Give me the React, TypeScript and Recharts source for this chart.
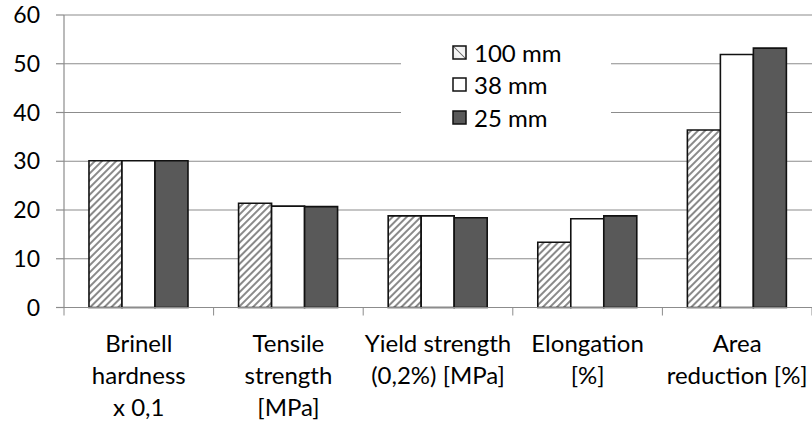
import React from "react";
import { BarChart, Bar, XAxis, YAxis, CartesianGrid, Legend } from "recharts";

// Property categories (multi-line axis labels)
const categories: string[][] = [
  ["Brinell", "hardness", "x 0,1"],
  ["Tensile", "strength", "[MPa]"],
  ["Yield strength", "(0,2%) [MPa]"],
  ["Elongation", "[%]"],
  ["Area", "reduction [%]"],
];

const series100: number[] = [30.1, 21.4, 18.8, 13.4, 36.4];
const series38: number[] = [30.1, 20.8, 18.8, 18.2, 51.9];
const series25: number[] = [30.1, 20.7, 18.4, 18.8, 53.2];

const yTicks: number[] = [0, 10, 20, 30, 40, 50, 60];

const data = categories.map((lines, i) => ({
  key: lines.join(" "),
  "100 mm": series100[i],
  "38 mm": series38[i],
  "25 mm": series25[i],
}));

const FONT = "Lato, 'Open Sans', sans-serif";
const GRID = "#8c8c8c";
const FS = 23;
const LABEL_FS = 24;

const CategoryTick = (props: any) => {
  const { x, y, payload, index, visibleTicksCount } = props;
  const lines = categories[index] || [];
  const half = payload.offset || 0;
  const isLast = index === (visibleTicksCount ?? categories.length) - 1;
  const axisY = y - 8;
  return (
    <g>
      <line x1={x - half} x2={x - half} y1={axisY} y2={axisY + 8} stroke={GRID} strokeWidth={1} />
      {isLast && (
        <line x1={x + half} x2={x + half} y1={axisY} y2={axisY + 8} stroke={GRID} strokeWidth={1} />
      )}
      <text textAnchor="middle" fontFamily={FONT} fontSize={LABEL_FS} fill="#000">
        {lines.map((l, k) => (
          <tspan key={k} x={x} y={axisY + 44 + k * 32}>
            {l}
          </tspan>
        ))}
      </text>
    </g>
  );
};

const Swatch = ({ kind }: { kind: string }) => (
  <svg width={15} height={15} style={{ display: "block" }}>
    <defs>
      <linearGradient id="legHatch" x1="0" y1="1" x2="1" y2="0">
        <stop offset="0" stopColor="#e6e6e6" />
        <stop offset="0.45" stopColor="#f8f8f8" />
        <stop offset="0.5" stopColor="#777" />
        <stop offset="0.55" stopColor="#f8f8f8" />
        <stop offset="1" stopColor="#e6e6e6" />
      </linearGradient>
    </defs>
    <rect
      x={1}
      y={1}
      width={13}
      height={13}
      fill={kind === "100 mm" ? "url(#legHatch)" : kind === "38 mm" ? "#fff" : "#595959"}
      stroke="#111"
      strokeWidth={1.5}
    />
  </svg>
);

const LegendBox = () => (
  <div
    style={{
      background: "#fff",
      width: 210,
      height: 128,
      boxSizing: "border-box",
      paddingLeft: 51,
      paddingTop: 14,
      fontFamily: FONT,
      fontSize: LABEL_FS,
      color: "#000",
    }}
  >
    {["100 mm", "38 mm", "25 mm"].map((name) => (
      <div key={name} style={{ display: "flex", alignItems: "center", height: 32.5 }}>
        <Swatch kind={name} />
        <span style={{ marginLeft: 7 }}>{name}</span>
      </div>
    ))}
  </div>
);

export default function App() {
  return (
    <div style={{ position: "absolute", left: 0, top: 0, width: 812, height: 423, background: "#fff" }}>
      <BarChart
        width={812}
        height={423}
        data={data}
        margin={{ top: 15, right: 0, bottom: 0, left: 0 }}
        barCategoryGap="16.7%"
        barGap={0}
      >
        <defs>
          <pattern
            id="hatch100"
            patternUnits="userSpaceOnUse"
            width={5}
            height={5}
            patternTransform="rotate(45)"
          >
            <rect width={5} height={5} fill="#fff" />
            <line x1={1} y1={0} x2={1} y2={5} stroke="#8a8a8a" strokeWidth={2} />
          </pattern>
        </defs>
        <CartesianGrid vertical={false} stroke={GRID} strokeWidth={1.2} />
        <XAxis
          dataKey="key"
          height={115.5}
          axisLine={{ stroke: GRID, strokeWidth: 1.2 }}
          tickLine={false}
          tickSize={6}
          tickMargin={2}
          tick={<CategoryTick />}
          interval={0}
        />
        <YAxis
          width={64}
          domain={[0, 60]}
          ticks={yTicks}
          interval={0}
          axisLine={{ stroke: GRID, strokeWidth: 1.2 }}
          tickLine={{ stroke: GRID, strokeWidth: 1.2 }}
          tickSize={8}
          tickMargin={16}
          tick={{ fill: "#000", fontSize: FS, fontFamily: FONT }}
        />
        <Legend
          layout="vertical"
          align="center"
          verticalAlign="middle"
          content={<LegendBox />}
          wrapperStyle={{ position: "absolute", left: 401, top: 22, width: 210, height: 128 }}
        />
        <Bar dataKey="100 mm" fill="url(#hatch100)" stroke="#111" strokeWidth={1.6} isAnimationActive={false} />
        <Bar dataKey="38 mm" fill="#ffffff" stroke="#111" strokeWidth={1.6} isAnimationActive={false} />
        <Bar dataKey="25 mm" fill="#595959" stroke="#111" strokeWidth={1.6} isAnimationActive={false} />
      </BarChart>
    </div>
  );
}
